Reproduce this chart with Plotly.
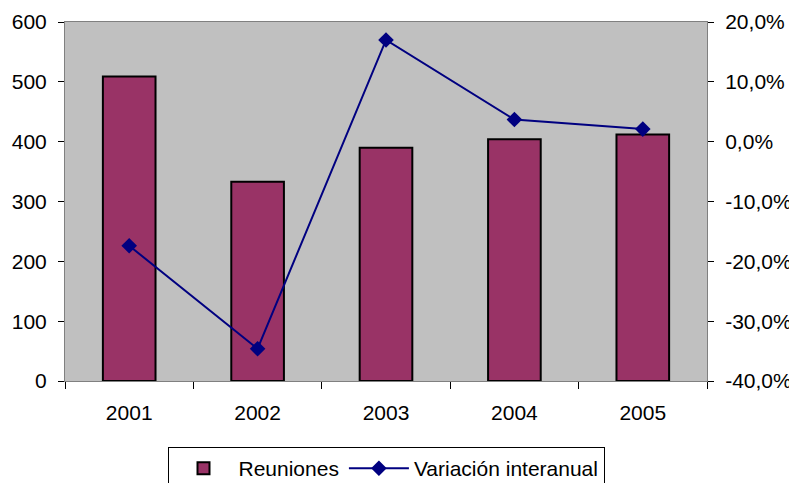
import plotly.graph_objects as go

years = ['2001', '2002', '2003', '2004', '2005']
reuniones = [509, 333, 390, 404, 412]
variacion = [-0.174, -0.346, 0.170, 0.037, 0.021]

y2_vals = [-0.4, -0.3, -0.2, -0.1, 0.0, 0.1, 0.2]
y2_text = ['-40,0%', '-30,0%', '-20,0%', '-10,0%', '0,0%', '10,0%', '20,0%']

fig = go.Figure()
fig.add_trace(go.Bar(
    x=years,
    y=reuniones,
    name='Reuniones',
    marker=dict(color='#993366', line=dict(color='black', width=2)),
    width=0.41,
))
fig.add_trace(go.Scatter(
    x=years,
    y=variacion,
    name='Variación interanual',
    mode='lines+markers',
    line=dict(color='#000080', width=2),
    marker=dict(symbol='diamond', size=12, color='#000080'),
    yaxis='y2',
))

# the page body has an 8px margin, so the figure is sized to fit the window
fig.update_layout(
    width=789,
    height=475,
    font=dict(family='Liberation Sans, Arial, sans-serif', size=21, color='black'),
    paper_bgcolor='white',
    plot_bgcolor='#C0C0C0',
    margin=dict(l=57, r=90, t=14, b=102, autoexpand=False),
    showlegend=True,
    legend=dict(
        orientation='h',
        x=0.5, xanchor='center',
        y=-0.184, yanchor='top',
        bordercolor='black', borderwidth=1,
        bgcolor='white',
        font=dict(size=21),
        itemwidth=60,
    ),
    xaxis=dict(
        showgrid=False,
        showline=True, linecolor='#808080', linewidth=1,
        mirror=True,
        ticks='outside', ticklen=7, tickcolor='black',
        tickson='boundaries',
        ticklabelstandoff=13,
        automargin=False,
    ),
    yaxis=dict(
        range=[0, 600], dtick=100,
        showgrid=False, zeroline=False,
        showline=True, linecolor='#808080', linewidth=1,
        ticks='outside', ticklen=6, tickcolor='black',
        ticklabelstandoff=7,
        automargin=False,
    ),
    yaxis2=dict(
        overlaying='y', side='right',
        range=[-0.4, 0.2],
        tickvals=y2_vals, ticktext=y2_text,
        showgrid=False, zeroline=False,
        showline=True, linecolor='#808080', linewidth=1,
        ticks='outside', ticklen=6, tickcolor='black',
        ticklabelstandoff=7,
        automargin=False,
    ),
)

fig.write_html('out.html')
